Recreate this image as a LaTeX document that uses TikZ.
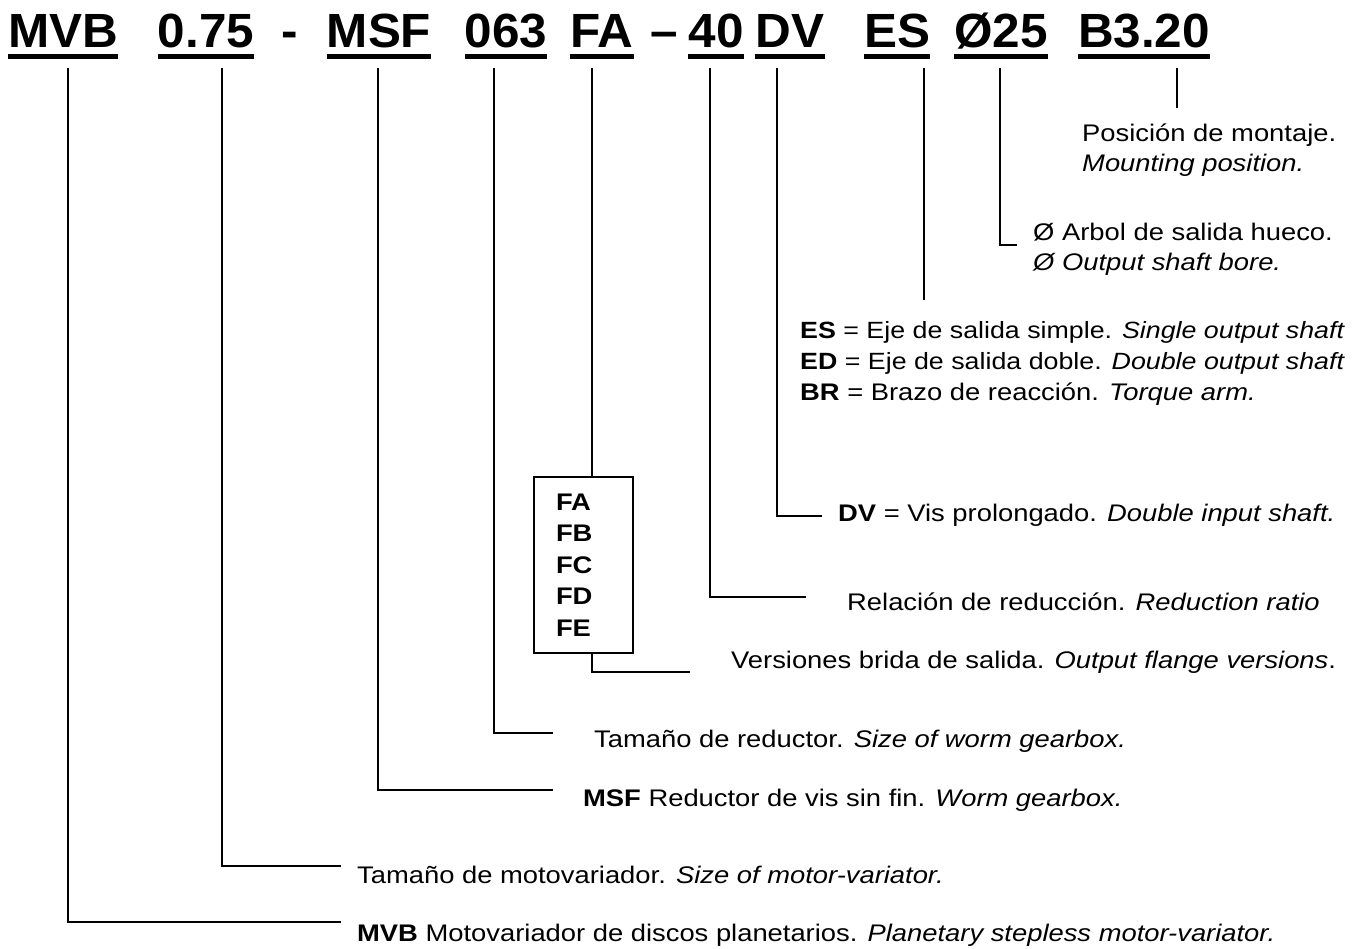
\documentclass[tikz,border=0pt]{standalone}
\usepackage{fontspec}
\setmainfont{Liberation Sans}[FakeStretch=1.14]
\newfontfamily\hdrfont{Liberation Sans}[FakeStretch=1.03]
\begin{document}
\begin{tikzpicture}[x=1pt,y=-1pt,
  hdr/.style={font=\hdrfont\fontsize{48}{48}\selectfont\bfseries, inner sep=0, anchor=base},
  desc/.style={font=\fontsize{24}{28}\selectfont, inner sep=0, anchor=base west},
  descn/.style={desc, font=\fontsize{23.5}{28}\selectfont},
  lead/.style={line width=2pt},
  uline/.style={line width=5.5pt}]
\useasboundingbox (0,0) rectangle (1354,948);
% header
\node[hdr] (h1) at (63,47) {MVB};
\node[hdr] (h2) at (206,47) {0.75};
\node[hdr] (hd1) at (290,47) {-};
\node[hdr] (h3) at (379,47) {MSF};
\node[hdr] (h4) at (506,47) {063};
\node[hdr] (h5) at (602,47) {FA};
\node[hdr] (hd2) at (664,47) {–};
\node[hdr] (h6) at (716,47) {40};
\node[hdr] (h7) at (790,47) {DV};
\node[hdr] (h8) at (897,47) {ES};
\node[hdr] (h9) at (1001,47) {Ø25};
\node[hdr] (h10) at (1144,47) {B3.20};
\foreach \n in {h1,h2,h3,h4,h5,h6,h7,h8,h9,h10}
  \draw[uline] ([yshift=-9.5pt]\n.base west) -- ([yshift=-9.5pt]\n.base east);
% descriptions
\node[desc] (d10a) at (1082,141) {Posición de montaje.};
\node[desc] (d10b) at (1082,171) {\itshape Mounting position.};
\node[desc] (d9a) at (1033,240) {Ø Arbol de salida hueco.};
\node[desc] (d9b) at (1033,270) {\itshape Ø Output shaft bore.};
\node[descn] (d8a) at (800,338) {\textbf{ES} = Eje de salida simple. \textit{Single output shaft}};
\node[descn] (d8b) at (800,369) {\textbf{ED} = Eje de salida doble. \textit{Double output shaft}};
\node[desc] (d8c) at (800,400) {\textbf{BR} = Brazo de reacción. \textit{Torque arm.}};
\node[desc] (d7) at (838,521) {\textbf{DV} = Vis prolongado. \textit{Double input shaft.}};
\node[desc] (d6) at (847,610) {Relación de reducción. \textit{Reduction ratio}};
\node[desc] (d5) at (731,668) {Versiones brida de salida. \textit{Output flange versions}.};
\node[desc] (d4) at (594,747) {Tamaño de reductor. \textit{Size of worm gearbox.}};
\node[desc] (d3) at (583,806) {\textbf{MSF} Reductor de vis sin fin. \textit{Worm gearbox.}};
\node[desc] (d2) at (357,883) {Tamaño de motovariador. \textit{Size of motor-variator.}};
\node[desc] (d1) at (357,941) {\textbf{MVB} Motovariador de discos planetarios. \textit{Planetary stepless motor-variator.}};
% flange box
\node[draw, line width=1.5pt, minimum width=99, minimum height=176, text width=55, inner xsep=22, inner ysep=0, align=left,
  font=\fontsize{24}{31.5}\selectfont\bfseries] (box) at (583.5,565) {FA\\FB\\FC\\FD\\FE};
% leader coordinates
\coordinate (t1) at (68,68);   \coordinate (e1) at (341,922);
\coordinate (t2) at (222,68);  \coordinate (e2) at (341,866);
\coordinate (t3) at (378,68);  \coordinate (e3) at (553,790);
\coordinate (t4) at (494,68);  \coordinate (e4) at (553,733);
\coordinate (t5) at (592,68);  \coordinate (e5) at (690,672);
\coordinate (t6) at (710,68);  \coordinate (e6) at (806,597);
\coordinate (t7) at (777,68);  \coordinate (e7) at (822,516);
\coordinate (t8) at (924,68);  \coordinate (e8) at (924,300);
\coordinate (t9) at (1000,68); \coordinate (e9) at (1017,245);
\coordinate (t10) at (1177,68); \coordinate (e10) at (1177,108);
% leaders
\draw[lead] (t1) |- (e1);
\draw[lead] (t2) |- (e2);
\draw[lead] (t3) |- (e3);
\draw[lead] (t4) |- (e4);
\draw[lead] (t5) -- (t5 |- box.north);
\draw[lead] (t5 |- box.south) |- (e5);
\draw[lead] (t6) |- (e6);
\draw[lead] (t7) |- (e7);
\draw[lead] (t8) -- (e8);
\draw[lead] (t9) |- (e9);
\draw[lead] (t10) -- (e10);
\end{tikzpicture}
\end{document}
